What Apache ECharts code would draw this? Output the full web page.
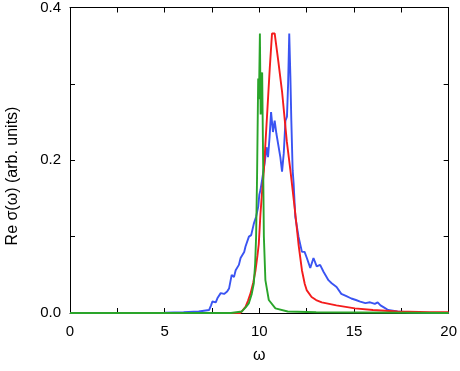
<!DOCTYPE html>
<html>
<head>
<meta charset="utf-8">
<script src="https://cdn.jsdelivr.net/npm/echarts@6/dist/echarts.min.js"></script>
<style>html,body{margin:0;padding:0;background:#fff}#c{width:460px;height:371px}</style>
</head>
<body>
<div id="c"></div>
<script>
var xTicksLabeled = [0, 5, 10, 15, 20];
var yTicksLabeled = [0.0, 0.2, 0.4];

var blueData = [[0,0],[3,0],[5,0.0005],[6,0.001],[6.8,0.002],[7.35,0.004],[7.45,0.01],[7.52,0.015],[7.61,0.017],[7.7,0.014],[7.8,0.02],[7.96,0.026],[8.14,0.025],[8.3,0.028],[8.4,0.032],[8.54,0.05],[8.66,0.047],[8.75,0.056],[8.85,0.058],[8.92,0.063],[9.01,0.072],[9.1,0.074],[9.2,0.08],[9.27,0.087],[9.45,0.1],[9.57,0.102],[9.71,0.117],[9.83,0.126],[9.94,0.139],[10.0,0.155],[10.06,0.161],[10.15,0.175],[10.24,0.19],[10.28,0.196],[10.38,0.217],[10.46,0.204],[10.54,0.23],[10.62,0.263],[10.72,0.237],[10.81,0.252],[10.9,0.235],[10.99,0.233],[11.11,0.204],[11.2,0.185],[11.29,0.209],[11.38,0.252],[11.46,0.257],[11.52,0.3],[11.58,0.366],[11.64,0.31],[11.69,0.252],[11.76,0.187],[11.81,0.17],[11.9,0.126],[12.07,0.1],[12.25,0.08],[12.39,0.08],[12.51,0.072],[12.69,0.059],[12.86,0.072],[13.03,0.061],[13.21,0.063],[13.39,0.054],[13.65,0.043],[13.82,0.039],[14.08,0.034],[14.33,0.025],[14.6,0.022],[14.86,0.019],[15.1,0.017],[15.33,0.015],[15.6,0.013],[15.85,0.014],[16.1,0.012],[16.25,0.014],[16.4,0.01],[16.6,0.007],[16.8,0.004],[17.05,0.003],[17.3,0.002],[17.85,0.001],[18.5,0.0005],[20,0]];

var redData = [[0,0],[9.0,0],[9.1,0.001],[9.27,0.008],[9.4,0.016],[9.54,0.026],[9.68,0.04],[9.8,0.056],[9.9,0.075],[9.97,0.09],[10.06,0.13],[10.15,0.16],[10.24,0.187],[10.4,0.255],[10.55,0.32],[10.67,0.366],[10.81,0.366],[11.0,0.33],[11.2,0.29],[11.45,0.225],[11.64,0.187],[11.9,0.13],[12.07,0.09],[12.25,0.056],[12.4,0.038],[12.5,0.03],[12.76,0.021],[13.0,0.017],[13.3,0.014],[14.07,0.01],[15.05,0.006],[16,0.004],[17.3,0.002],[19,0.0012],[20,0.001]];

var greenData = [[0,0],[8.5,0],[9.08,0.002],[9.3,0.008],[9.45,0.013],[9.6,0.025],[9.71,0.039],[9.78,0.065],[9.83,0.1],[9.88,0.178],[9.94,0.307],[9.98,0.28],[10.03,0.366],[10.07,0.26],[10.11,0.31],[10.15,0.315],[10.2,0.2],[10.24,0.1],[10.32,0.043],[10.5,0.017],[10.85,0.006],[11.5,0.002],[13,0.001],[20,0]];

var font = 'Liberation Sans, Arial, Helvetica, sans-serif';
function xAx(pos, show) {
  return {
    type: 'value', position: pos, min: 0, max: 20, interval: 2.5,
    axisLine: {show: true, onZero: false, lineStyle: {color: '#000', width: 1}},
    axisTick: {show: true, inside: true, length: 5, lineStyle: {color: '#000', width: 1}},
    splitLine: {show: false},
    axisLabel: {show: show, margin: 11, color: '#000', fontSize: 15, fontFamily: font,
      formatter: function (v) { return xTicksLabeled.indexOf(v) >= 0 ? String(v) : ''; }},
    name: show ? 'ω' : '', nameLocation: 'middle', nameGap: 35,
    nameTextStyle: {color: '#000', fontSize: 16, fontFamily: font}
  };
}
function yAx(pos, show) {
  return {
    type: 'value', position: pos, min: 0, max: 0.4, interval: 0.1,
    axisLine: {show: true, onZero: false, lineStyle: {color: '#000', width: 1}},
    axisTick: {show: true, inside: true, length: 5, lineStyle: {color: '#000', width: 1}},
    splitLine: {show: false},
    axisLabel: {show: show, margin: 9, color: '#000', fontSize: 15, fontFamily: font,
      formatter: function (v) {
        var r = Math.round(v * 10) / 10;
        return yTicksLabeled.some(function (t) { return Math.abs(t - r) < 1e-9; }) ? r.toFixed(1) : '';
      }}
  };
}
var chart = echarts.init(document.getElementById('c'), null, {renderer: 'canvas'});
chart.setOption({
  animation: false,
  backgroundColor: '#fff',
  grid: {left: 70, top: 7, right: 9, bottom: 58, containLabel: false},
  xAxis: [xAx('bottom', true), xAx('top', false)],
  yAxis: [yAx('left', true), yAx('right', false)],
  graphic: [{
    type: 'text', rotation: Math.PI / 2, x: 13, y: 176,
    style: {text: 'Re σ(ω) (arb. units)', fill: '#000', fontSize: 16, fontFamily: font,
      align: 'center', verticalAlign: 'middle'}
  }],
  series: [
    {type: 'line', data: blueData, showSymbol: false, lineStyle: {color: '#3a54f2', width: 1.9}, z: 2},
    {type: 'line', data: redData, showSymbol: false, lineStyle: {color: '#f41c1c', width: 1.9}, z: 3},
    {type: 'line', data: greenData, showSymbol: false, lineStyle: {color: '#2aa52a', width: 1.9}, z: 4}
  ]
});
</script>
</body>
</html>
